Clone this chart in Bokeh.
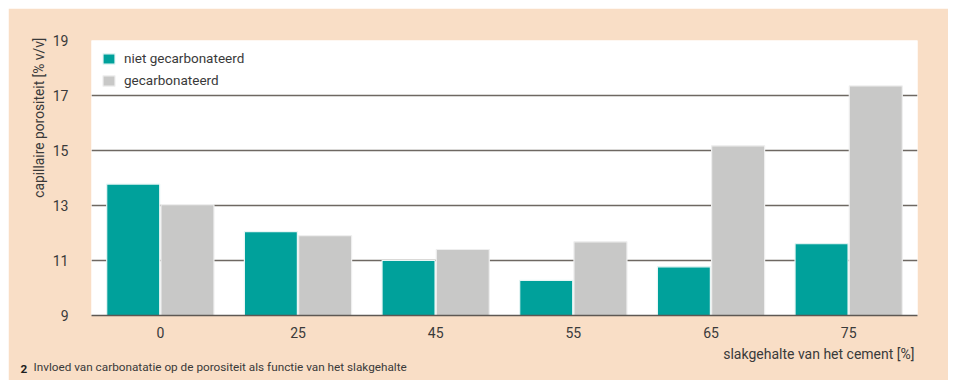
from bokeh.plotting import figure
from bokeh.layouts import column, row
from bokeh.models import (ColumnDataSource, FactorRange, Range1d, FixedTicker, Legend,
                          LegendItem, Spacer, Title)
from bokeh.transform import dodge
from bokeh.embed import file_html
from bokeh.resources import INLINE

categories = ["0", "25", "45", "55", "65", "75"]
niet_gecarbonateerd = [13.78, 12.05, 11.0, 10.28, 10.77, 11.61]
gecarbonateerd = [13.03, 11.9, 11.4, 11.68, 15.17, 17.35]
y_ticks = [9, 11, 13, 15, 17, 19]

FONT = "Roboto"
TEXT = "#3a3a3a"
PEACH = "#F9DEC6"
TEAL = "#00A19B"
GREY = "#C8C8C7"

src = ColumnDataSource(dict(cat=categories, niet=niet_gecarbonateerd, gec=gecarbonateerd))

p = figure(width=940, height=372, x_range=FactorRange(*categories, range_padding=0),
           y_range=Range1d(9, 19), output_backend="svg", toolbar_location=None,
           min_border_left=83, min_border_right=31, min_border_top=32, min_border_bottom=65)
p.border_fill_color = PEACH
p.background_fill_color = "white"
p.outline_line_color = None

r1 = p.vbar(x=dodge("cat", -0.197, range=p.x_range), top="niet", bottom=9, width=0.385,
            source=src, fill_color=TEAL, line_color="#e8f6f5", line_width=1.2)
r2 = p.vbar(x=dodge("cat", 0.197, range=p.x_range), top="gec", bottom=9, width=0.385,
            source=src, fill_color=GREY, line_color="#eeeeee", line_width=1.2)

p.xgrid.grid_line_color = None
p.ygrid.grid_line_color = "#6e6862"
p.ygrid.grid_line_width = 1.5
p.ygrid.ticker = FixedTicker(ticks=y_ticks)

p.yaxis.ticker = FixedTicker(ticks=y_ticks)
p.yaxis.axis_line_color = None
p.yaxis.major_tick_line_color = None
p.yaxis.minor_tick_line_color = None
p.yaxis.major_tick_in = 0
p.yaxis.major_tick_out = 0
p.yaxis.minor_tick_in = 0
p.yaxis.minor_tick_out = 0
p.yaxis.major_label_standoff = 23
p.yaxis.major_label_text_font = FONT
p.yaxis.major_label_text_font_size = "14px"
p.yaxis.major_label_text_color = TEXT

p.xaxis.axis_line_color = "#5e5853"
p.xaxis.axis_line_width = 1.5
p.xaxis.major_tick_line_color = None
p.xaxis.minor_tick_line_color = None
p.xaxis.major_tick_in = 0
p.xaxis.major_tick_out = 0
p.xaxis.major_label_standoff = 11
p.xaxis.major_label_text_font = FONT
p.xaxis.major_label_text_font_size = "14px"
p.xaxis.major_label_text_color = TEXT

legend = Legend(items=[LegendItem(label="niet gecarbonateerd", renderers=[r1]),
                       LegendItem(label="gecarbonateerd", renderers=[r2])],
                location="top_left", margin=10, padding=0, spacing=6,
                glyph_width=15, glyph_height=13, label_standoff=8,
                label_text_font=FONT, label_text_font_size="13.5px", label_text_color=TEXT,
                border_line_color=None, background_fill_alpha=0)
p.add_layout(legend)

p.add_layout(Title(text="capillaire porositeit [% v/v]", align="right", offset=-3, standoff=4.5,
                   text_font=FONT, text_font_size="13.8px", text_font_style="normal",
                   text_color=TEXT), "left")
p.add_layout(Title(text="slakgehalte van het cement [%]", align="right", offset=3, standoff=6.8,
                   text_font=FONT, text_font_size="14px", text_font_style="normal",
                   text_color=TEXT), "below")
p.add_layout(Title(text="Invloed van carbonatatie op de porositeit als functie van het slakgehalte",
                   align="left", offset=-58, standoff=-15.2,
                   text_font=FONT, text_font_size="11.75px", text_font_style="normal",
                   text_color=TEXT), "below")
p.add_layout(Title(text="2", align="left", offset=-71, standoff=-2.8, vertical_align="top",
                   text_font=FONT, text_font_size="11.75px", text_font_style="bold",
                   text_color="#1e1e1e"), "below")

layout = column(Spacer(height=8), row(Spacer(width=8), p))
open("out.html", "w").write(file_html(layout, INLINE))
